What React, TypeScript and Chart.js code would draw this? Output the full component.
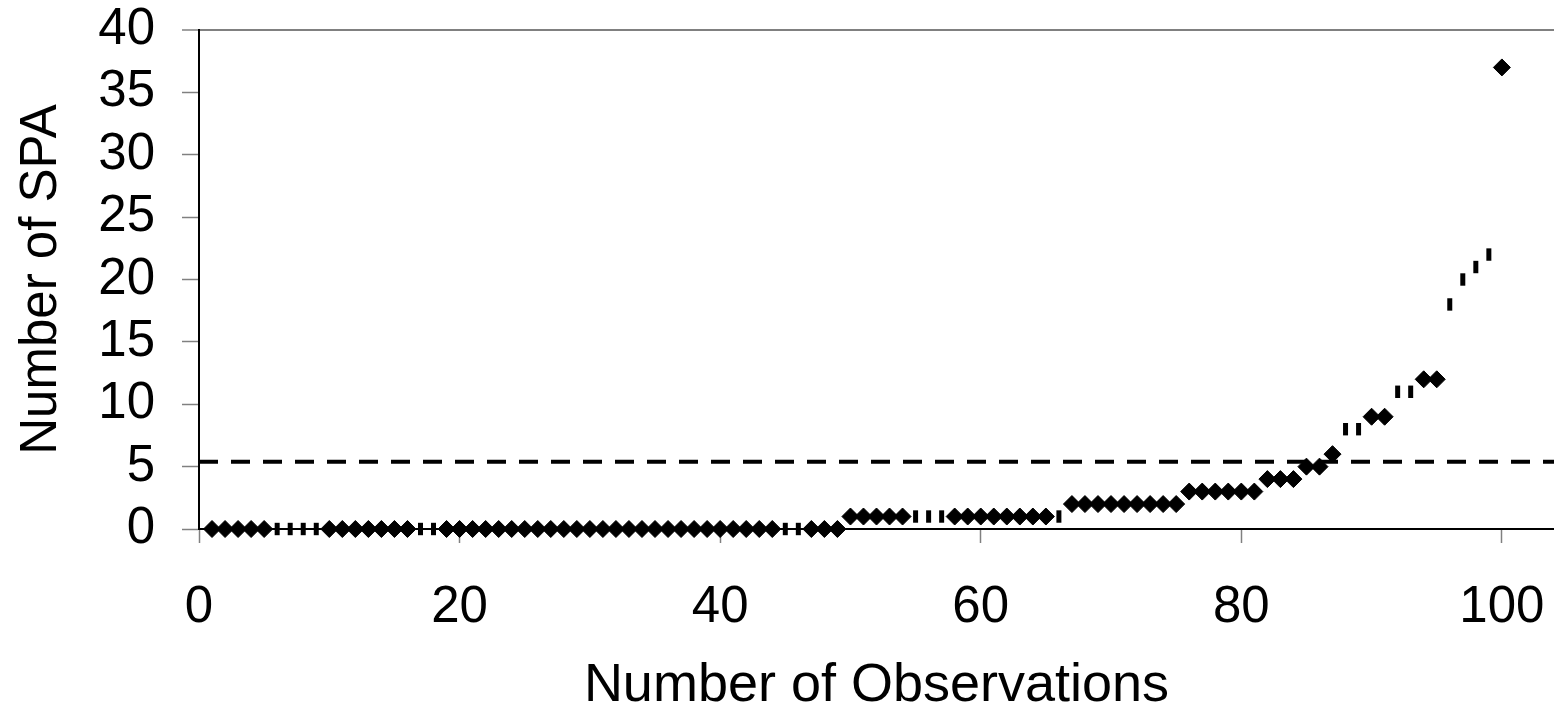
import React, { useEffect, useRef } from "react";
import { Chart, registerables } from "chart.js";

Chart.register(...registerables);

// Number of SPA for each observation (observations 1..100, sorted)
const SPA_COUNTS: number[] = [
  0, 0, 0, 0, 0, 0, 0, 0, 0, 0,
  0, 0, 0, 0, 0, 0, 0, 0, 0, 0,
  0, 0, 0, 0, 0, 0, 0, 0, 0, 0,
  0, 0, 0, 0, 0, 0, 0, 0, 0, 0,
  0, 0, 0, 0, 0, 0, 0, 0, 0, 1,
  1, 1, 1, 1, 1, 1, 1, 1, 1, 1,
  1, 1, 1, 1, 1, 1, 2, 2, 2, 2,
  2, 2, 2, 2, 2, 3, 3, 3, 3, 3,
  3, 4, 4, 4, 5, 5, 6, 8, 8, 9,
  9, 11, 11, 12, 12, 18, 20, 21, 22, 37,
];

// Observations whose marker appears as a thin vertical bar
const BAR_MARKER_OBS: number[] = [6, 7, 8, 9, 17, 18, 45, 46, 55, 56, 57, 66, 88, 89, 92, 93, 96, 97, 98, 99];

// Threshold (dashed reference line)
const THRESHOLD = 5.4;

const X_MIN = 0;
const X_MAX = 104;
const Y_MIN = 0;
const Y_MAX = 40;

const X_TITLE = "Number of Observations";
const Y_TITLE = "Number of SPA";

const FONT = "'Liberation Sans', Arial, Helvetica, sans-serif";

export default function App() {
  const canvasRef = useRef<HTMLCanvasElement | null>(null);

  useEffect(() => {
    if (!canvasRef.current) return;
    const points = SPA_COUNTS.map((v, i) => ({ x: i + 1, y: v }));
    const isBar = (ctx: any) => {
      const raw = ctx.raw as { x: number } | undefined;
      return raw ? BAR_MARKER_OBS.includes(raw.x) : false;
    };
    const chart = new Chart(canvasRef.current, {
      type: "scatter",
      data: {
        datasets: [
          {
            label: "SPA",
            data: points,
            showLine: false,
            clip: false as any,
            backgroundColor: "#000",
            borderColor: "#000",
            pointStyle: ((ctx: any) => (isBar(ctx) ? "line" : "rectRot")) as any,
            pointRotation: ((ctx: any) => (isBar(ctx) ? 90 : 0)) as any,
            pointRadius: ((ctx: any) => (isBar(ctx) ? 6.2 : 8.5)) as any,
            pointBorderWidth: ((ctx: any) => (isBar(ctx) ? 5 : 1)) as any,
          },
          {
            label: "Threshold",
            data: [
              { x: X_MIN, y: THRESHOLD },
              { x: X_MAX, y: THRESHOLD },
            ],
            showLine: true,
            borderColor: "#000",
            borderWidth: 4,
            borderDash: [19, 13],
            pointRadius: 0,
            fill: false,
          },
        ],
      },
      options: {
        animation: false,
        responsive: false,
        maintainAspectRatio: false,
        devicePixelRatio: 1,
        layout: { autoPadding: false, padding: { left: 0, top: 30, right: 0, bottom: 0 } },
        plugins: {
          legend: { display: false },
          tooltip: { enabled: false },
        },
        scales: {
          x: {
            type: "linear",
            min: X_MIN,
            max: X_MAX,
            afterFit: (scale: any) => {
              scale.height = 184;
              scale.paddingLeft = 0;
              scale.paddingRight = 0;
            },
            ticks: {
              stepSize: 20,
              includeBounds: false,
              autoSkip: false,
              maxRotation: 0,
              color: "#000",
              padding: 34,
              font: { family: FONT, size: 51 },
            },
            grid: {
              drawOnChartArea: false,
              drawTicks: true,
              tickLength: 14,
              tickColor: "#808080",
              tickWidth: 1.5,
            },
            border: { color: "#000", width: 2 },
            title: {
              display: true,
              text: X_TITLE,
              color: "#000",
              font: { family: FONT, size: 54, lineHeight: 1 },
              padding: { top: 0, bottom: 0 },
            },
          },
          y: {
            type: "linear",
            min: Y_MIN,
            max: Y_MAX,
            afterFit: (scale: any) => {
              scale.width = 199;
              scale.paddingTop = 0;
              scale.paddingBottom = 0;
              scale.paddingLeft = 0;
              scale.paddingRight = 0;
            },
            ticks: {
              stepSize: 5,
              autoSkip: false,
              color: "#000",
              padding: 27,
              font: { family: FONT, size: 51 },
            },
            grid: {
              drawOnChartArea: true,
              drawTicks: true,
              tickLength: 17,
              tickColor: "#808080",
              tickWidth: 1.5,
              color: (ctx: any) => (ctx.tick && ctx.tick.value === Y_MAX ? "#808080" : "rgba(0,0,0,0)"),
              lineWidth: (ctx: any) => (ctx.tick && ctx.tick.value === Y_MAX ? 2 : 1),
            },
            border: { color: "#000", width: 2 },
            title: {
              display: true,
              text: Y_TITLE,
              color: "#000",
              font: { family: FONT, size: 51, lineHeight: 1.2 },
              padding: { top: 11, bottom: 0 },
            },
          },
        },
      },
    });
    return () => chart.destroy();
  }, []);

  return (
    <div style={{ position: "absolute", left: 0, top: 0, width: 1554, height: 713, background: "#fff", overflow: "hidden" }}>
      <canvas ref={canvasRef} width={1554} height={713} style={{ display: "block", width: 1554, height: 713 }} />
    </div>
  );
}
